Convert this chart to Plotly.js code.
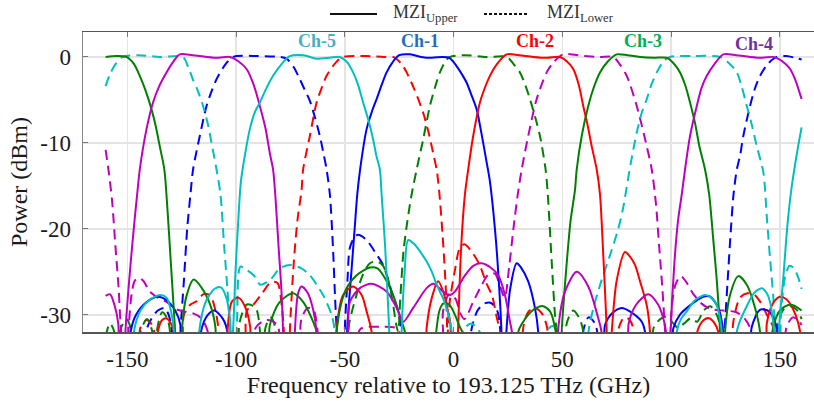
<!DOCTYPE html>
<html><head><meta charset="utf-8">
<script src="https://cdn.plot.ly/plotly-3.0.1.min.js"></script>
<style>html,body{margin:0;padding:0;background:#fff}</style>
</head><body><div id="chart" style="width:814px;height:402px"></div>
<script>
// ---- data (x: GHz, y: dBm) ----
const ch1Upper = [[-160,-40],[-150,-40],[-148.5,-32],[-146,-30],[-141,-28.5],[-136,-27.9],[-132,-28.3],[-128,-29.5],[-125.6,-31.2],[-124,-40],[-117,-40],[-116,-31.8],[-113,-30],[-110,-29.5],[-106,-30.5],[-104,-32],[-103,-40],[-51,-40],[-49.5,-40],[-49,-32],[-47,-25],[-45.5,-20],[-44.3,-16],[-43,-13.1],[-40,-8.4],[-37.5,-6.3],[-35.4,-4.9],[-33,-3.2],[-30.8,-1.8],[-28,-0.6],[-25,0.2],[-20,0.3],[-15,0],[-10,-0.1],[-5,0],[-2,-0.1],[0,-0.6],[2,-1.3],[4,-2.1],[6,-3],[8,-4.3],[10.6,-6.1],[12,-7.8],[13.6,-10],[15,-12],[16.7,-14.5],[19,-20],[20.5,-25],[22,-32],[22.5,-40],[24,-33],[26,-27],[29,-24],[31,-24.5],[34.3,-26.1],[37.4,-29.2],[38.9,-32],[39.5,-40],[68,-40],[69.6,-31.2],[73,-29.8],[77.3,-29.2],[81,-29.6],[86.5,-30.8],[88,-32],[89,-40],[100,-40],[101,-31.6],[104,-30],[108.7,-28.9],[114.8,-27.9],[118,-27.9],[121.7,-29.2],[124,-32],[125,-40],[136,-40],[137,-31.5],[141,-29.4],[145,-29.6],[148.6,-31.5],[149.5,-40],[160,-40]];
const ch1Lower = [[-160,-40],[-143,-40],[-141.5,-32],[-139,-30.5],[-136,-29.5],[-133,-29.2],[-131,-30],[-129.5,-32],[-128.5,-40],[-126.5,-40],[-125.6,-32],[-124,-26],[-122.5,-20],[-121,-16],[-119.8,-13.1],[-116.7,-9.2],[-113.6,-5.7],[-111,-3.8],[-109,-2.6],[-105,-0.9],[-101.4,0],[-90,0.1],[-80,0],[-76.8,-0.2],[-73.5,-1.2],[-70.7,-2.6],[-68.5,-3.8],[-66.1,-5.1],[-63.8,-7],[-61.5,-9.2],[-60,-11],[-58.4,-13.1],[-56.9,-16],[-55.5,-22],[-54.5,-28],[-53.8,-31.5],[-53.3,-33],[-52.5,-40],[-51,-40],[-50,-31.5],[-48.8,-26],[-47.7,-22.2],[-45.4,-20.9],[-43.9,-20.7],[-40,-21.3],[-35.4,-23],[-32.4,-24.2],[-28.5,-27.3],[-25.5,-29.6],[-24,-32],[-23.2,-40],[7,-40],[8,-32],[11,-29.5],[14,-28.7],[17,-28.6],[20,-29.5],[21.5,-32],[22,-40],[58,-40],[59.5,-32],[62,-30.3],[65,-31],[66,-32],[66.5,-40],[122,-40],[124.5,-32],[126,-26],[127.5,-20],[128.7,-16],[130.2,-13.1],[131.7,-11.5],[133.2,-9.2],[136.3,-5.7],[138.5,-3.7],[140.9,-2.2],[144.5,-0.8],[148.6,0],[153,0.1],[157,-0.1],[160,-0.3]];
const ch2Upper = [[-160,-40],[-137,-40],[-136,-32],[-134,-30.6],[-132,-30.4],[-130,-31],[-128.5,-32],[-128,-40],[-105,-40],[-104,-32],[-102,-28.5],[-99,-28],[-96,-29],[-93.5,-31.5],[-93,-40],[-55,-40],[-53.8,-31.5],[-50.8,-27.7],[-46.2,-26.7],[-42.3,-27.7],[-40,-29.6],[-37.7,-32],[-37,-40],[-14,-40],[-12.4,-31.5],[-10,-28],[-7.1,-26.1],[-4.5,-27.5],[-3.2,-28.9],[-1.5,-31],[-0.5,-40],[0.8,-40],[2,-32],[3.5,-22],[5.2,-16],[6.7,-13.1],[9,-9.2],[12.1,-5.3],[14.5,-3.5],[16.7,-2.2],[20,-0.8],[24.4,0.3],[30,0.2],[36.6,0],[43,-0.1],[48.9,0],[52,-0.5],[55,-1.4],[57.5,-3.2],[59.6,-5.7],[61.5,-7.8],[63.5,-10.4],[65.8,-13.1],[67.3,-16],[68.8,-23],[70.4,-32],[71,-40],[72.7,-32],[75,-26],[78.8,-22.7],[81,-23.2],[83.4,-24.2],[85.7,-26.1],[88.8,-28.9],[90.3,-32],[91,-40],[111,-40],[112,-32],[115,-30.6],[117.5,-30.4],[120,-31],[121.7,-32],[122.5,-40],[143,-40],[144,-31],[147,-28.6],[150,-27.9],[153,-28.2],[156,-29.3],[158.5,-31],[160,-33]];
const ch2Lower = [[-160,-40],[-146,-40],[-144,-31.5],[-141,-30.6],[-138,-31.5],[-136.5,-40],[-126,-40],[-124,-30],[-121,-28.8],[-118,-28.4],[-115,-27.6],[-112,-27.7],[-109.5,-29.5],[-108,-32],[-107,-40],[-97,-40],[-95,-29.5],[-92,-28.8],[-88,-27.5],[-84,-26.2],[-81,-26.3],[-79,-29],[-77.8,-33],[-77,-40],[-76,-40],[-75.3,-32],[-73.5,-24],[-71.8,-19],[-69.9,-15.5],[-69.2,-13.1],[-66.1,-9.2],[-63,-5.3],[-60.5,-3.5],[-58.4,-2.2],[-54,-0.6],[-50.8,0],[-40,0.1],[-32,0],[-27.8,0],[-24,-0.8],[-21.6,-1.8],[-18,-3.8],[-14,-6.5],[-11.5,-8.8],[-9.4,-11.2],[-7.8,-13.1],[-6.5,-16],[-5,-21],[-4,-25],[-3.3,-28.5],[-2.8,-32.5],[-2.3,-30],[-1.7,-28.3],[0.6,-24.8],[2.9,-22.2],[5,-21.8],[8.4,-22.7],[12,-24.2],[15,-26.3],[17.6,-27.7],[20,-30.5],[21.5,-32],[22,-40],[31,-40],[32,-31.5],[34.5,-29.6],[37.4,-29.2],[40.5,-29.8],[43,-31.5],[44,-40],[75,-40],[76,-31.5],[78.5,-30.3],[81,-30.6],[83,-32],[84,-40],[127,-40],[128.5,-31],[131.7,-28],[135,-27.5],[138,-27.6],[141,-28.5],[144,-30],[147,-31.5],[148,-40],[160,-40]];
const ch3Upper = [[-160,0],[-155,0.1],[-150.5,0],[-147,-0.8],[-144.3,-2.2],[-141.5,-4],[-138.9,-6.1],[-137,-8],[-135.1,-10.4],[-133,-13.1],[-131.5,-18],[-130,-24],[-128.5,-30],[-127.8,-33],[-127,-40],[-126,-40],[-125,-32],[-123,-28],[-119.5,-25.9],[-116,-26.8],[-111.8,-28.9],[-109.5,-31.5],[-108.5,-40],[-86,-40],[-84.5,-31.2],[-79.9,-28.5],[-73.8,-27.5],[-69.2,-28.5],[-64.6,-30.8],[-63,-32],[-62,-40],[-55,-40],[-53.8,-32],[-51.5,-28.5],[-49.2,-26.9],[-44.6,-25.4],[-38.5,-24.5],[-35,-24.6],[-32.4,-25.4],[-27.8,-27.7],[-23.9,-30.8],[-22.4,-32],[-21.5,-40],[-10,-40],[-8,-32],[-6.5,-29.5],[-4.8,-28.7],[-2,-28.8],[0.6,-30],[3,-31.5],[5,-32.5],[6,-40],[28.5,-40],[29.7,-32],[31.5,-31],[34.3,-30],[38,-29.2],[41.2,-29],[44,-29.5],[45.1,-30],[46.6,-31.5],[47.5,-33],[48.5,-40],[49.2,-40],[49.7,-32],[52,-24],[53.8,-19],[55.8,-15.5],[56.6,-13.1],[58.9,-9.2],[61.9,-5.7],[64.5,-3.5],[67.3,-1.8],[71,-0.5],[75,0.3],[80,0.2],[85.7,0],[92,-0.1],[98,-0.1],[101,-0.7],[104.1,-1.8],[106.5,-3.3],[108.7,-5.3],[111,-7.7],[113,-10.4],[115.6,-13.1],[117.5,-16],[119.3,-21],[121,-26],[122.5,-32],[123,-40],[124,-40],[124.8,-32],[127.1,-27.7],[130.9,-25.5],[134.8,-26.5],[138.6,-29.2],[140.9,-32],[141.5,-40],[145,-40],[146.5,-32],[150,-29.5],[155,-28.8],[160,-29.5]];
const ch3Lower = [[-160,-32.5],[-158,-31],[-156,-32],[-155,-40],[-153.5,-32],[-150.5,-30.5],[-148,-32],[-147,-40],[-144,-32],[-141,-30.5],[-138.5,-32],[-137.5,-40],[-136.5,-32],[-134,-29.7],[-131.5,-30.5],[-130,-33],[-129,-40],[-100,-40],[-98.5,-31],[-95,-28.8],[-91,-29.2],[-89,-32],[-88,-40],[-87.5,-40],[-86.5,-31.5],[-84,-30.3],[-82,-31.5],[-81,-40],[-52,-40],[-48,-31],[-45,-28],[-42,-25.5],[-38.5,-24],[-35,-23.8],[-32.4,-24.3],[-30,-26],[-28,-28.5],[-26.5,-31],[-25.5,-32],[-24.5,-28],[-23,-22.5],[-21.2,-19],[-19.3,-16],[-17,-13.1],[-14,-9.6],[-10.9,-5.7],[-8.5,-3.5],[-6.3,-1.8],[-3.5,-0.4],[-1.7,0],[5,0.2],[15,0],[24.4,0],[27.5,-0.8],[30.5,-1.8],[33,-3.3],[35.1,-4.9],[37.5,-7],[39.7,-9.2],[42.3,-13.1],[43.3,-16],[45.1,-23.8],[46.6,-30],[47.4,-32],[48,-40],[51,-40],[52,-31],[55,-29.5],[58,-30.5],[60,-32.5],[61,-40],[89,-40],[92,-31.5],[95,-30.5],[98,-30.2],[101,-31],[103,-31.5],[106,-31],[109,-30.4],[112,-30.8],[115,-29.5],[118,-29],[121,-30],[123,-32],[124,-40],[146,-40],[149,-31],[152,-29.3],[155,-29],[158,-29.5],[160,-30.5]];
const ch4Upper = [[-160,-27.8],[-158,-27.6],[-156,-28.8],[-154.2,-31],[-153,-40],[-151.7,-40],[-150.9,-32],[-148.5,-24],[-146.5,-18.5],[-145.5,-16],[-144.3,-13.1],[-141.2,-8.4],[-138.2,-5.3],[-135,-3.2],[-132,-1.8],[-129,-0.6],[-125.9,0.3],[-120,0.2],[-113.6,0],[-108,-0.1],[-102.9,0],[-99,-0.5],[-95.2,-1.4],[-92,-3.2],[-89.1,-5.7],[-86.5,-8.3],[-84.5,-11.2],[-83,-13.1],[-82,-16],[-80.5,-22],[-79.2,-27],[-78.4,-32],[-77.8,-40],[-74,-40],[-73,-32],[-71.5,-27.5],[-69.9,-26.7],[-67,-27.5],[-64.5,-29.5],[-63,-32],[-62,-40],[-50,-40],[-48.5,-32],[-47.7,-28.5],[-43.1,-26.9],[-37.7,-26.4],[-30.8,-27.3],[-26.2,-29.2],[-23.2,-30.8],[-18.6,-29.2],[-12.4,-26.9],[-9.4,-26.4],[-4.8,-27.3],[-1.7,-27.7],[0.6,-27.3],[5,-25.5],[9,-24.3],[12.9,-24],[17,-24.5],[20.5,-25.4],[23.6,-27.7],[25.9,-30.8],[26.8,-32],[27.5,-40],[47,-40],[48.1,-31.6],[51.2,-27.3],[56.6,-25],[61.9,-26.7],[66.5,-30.4],[68,-32],[68.8,-40],[79.5,-40],[80.5,-31],[84,-28.8],[89.5,-27.6],[94,-28.8],[97,-31],[98,-33],[98.5,-40],[99.2,-40],[99.8,-32],[101.5,-24],[103.2,-19],[104.9,-16],[106.4,-13.1],[108.7,-9.2],[111.8,-5.7],[114,-3.6],[116.4,-2.2],[120,-0.8],[124,0.3],[130,0.2],[136.3,0],[142,-0.1],[147,0],[150,-0.3],[152.5,-0.8],[154.7,-1.4],[157,-2.6],[160,-4.9]];
const ch4Lower = [[-160,-10.8],[-158.5,-13.5],[-157,-16.8],[-155.5,-22],[-154,-27],[-153.2,-30.8],[-152.5,-33],[-152,-40],[-150.5,-40],[-149.5,-32],[-148,-27.5],[-146.5,-26],[-144.5,-25.7],[-142.5,-26.1],[-139.7,-27.3],[-136,-28],[-132,-28.5],[-128,-29.3],[-124,-29.6],[-120,-29.8],[-116,-30.4],[-113,-32],[-111,-40],[-93,-40],[-91,-31.5],[-86,-30.6],[-81,-31.2],[-79,-40],[-72,-40],[-70,-30.5],[-67,-29.2],[-64.5,-29.4],[-62.5,-32],[-61,-40],[-45,-40],[-43,-31.7],[-34,-31.4],[-26,-31.6],[-24,-33],[-23,-40],[-6,-40],[-4.8,-29.5],[-2,-27.6],[1,-28.2],[3,-29.8],[5,-30.5],[9,-28.5],[13,-26.5],[16,-25.3],[19,-25.2],[21.5,-26.8],[23.5,-28],[25.5,-24.5],[27.5,-20],[29.5,-16],[31.3,-13.1],[34.3,-9.2],[38.2,-4.9],[42.8,-1.8],[46,-0.6],[50.4,0.3],[60,0.1],[67,0],[73.4,0],[76.5,-0.9],[79.6,-2.2],[84.2,-5.7],[88.8,-10.4],[91.1,-13.1],[93,-17],[94.5,-22],[96,-27],[97,-31],[97.5,-33],[98,-40],[99,-40],[100,-30],[102,-26.5],[104.5,-25.5],[107,-26.2],[110,-27.5],[114,-28.7],[118,-29.3],[124,-29.5],[130,-29.7],[134,-30.5],[137,-32],[138,-40],[150,-40],[153,-31.5],[156,-30.3],[159,-30.8],[160,-31.2]];
const ch5Upper = [[-160,-40],[-148,-40],[-147,-32],[-144,-29.5],[-140,-28.3],[-135,-27.7],[-132,-28],[-130,-29.5],[-128.5,-32],[-128,-40],[-118,-40],[-117,-32],[-114,-28.5],[-110,-27],[-107,-26.8],[-104.5,-28],[-102.8,-30.5],[-102.2,-33],[-101.5,-32],[-100.3,-25],[-99,-19],[-97.8,-14.5],[-96,-11.5],[-93.7,-8.4],[-91.5,-6.5],[-89.1,-5.3],[-86,-3.6],[-83,-2.2],[-79,-0.8],[-75.3,0.1],[-69,0.2],[-63,-0.2],[-57,-0.1],[-52.3,0],[-49,-0.6],[-46.2,-1.8],[-44,-3.2],[-41.6,-5.3],[-39,-7.5],[-37,-9.6],[-35.5,-11.5],[-33.9,-13.1],[-33.1,-16],[-31.5,-22],[-30.3,-28],[-29.6,-32],[-29,-40],[-24.5,-40],[-23.9,-32],[-22.5,-25],[-20.9,-21.3],[-18,-21.8],[-15,-22.8],[-12.4,-23.8],[-10,-25],[-7.8,-26.5],[-5,-28],[-3.2,-29.2],[-1.5,-31],[-0.9,-32],[-0.3,-40],[101.5,-40],[102.6,-32],[104.5,-30.5],[107.2,-29.6],[111,-28.3],[115.6,-27.7],[118.5,-28],[121,-28.9],[122.5,-30.5],[123.3,-32],[124,-40],[129.5,-40],[130.2,-32],[132,-30.5],[134.8,-29],[138,-27.5],[141.7,-26.9],[144,-27.5],[145.5,-28.5],[147,-31],[147.8,-33],[148.5,-40],[149,-40],[149.5,-32],[151.5,-26],[153.5,-19.5],[155.5,-15],[158,-11],[160,-8.2]];
const ch5Lower = [[-160,-3.4],[-158,-2],[-155,-0.7],[-152,0],[-145,0.2],[-135,0],[-124.5,0],[-122,-1.2],[-119.9,-2.6],[-117.5,-4],[-115.2,-5.7],[-113,-7.8],[-111.3,-10],[-109,-13.1],[-107.2,-16],[-105.5,-22],[-104,-27],[-103,-31],[-102.5,-33],[-102,-40],[-100.5,-40],[-99.5,-30],[-98,-24.4],[-95,-24.8],[-91.9,-25.4],[-88.8,-26.5],[-84.2,-25.9],[-80,-24.6],[-75.2,-24.2],[-70,-24.6],[-66.1,-25.4],[-63,-26.5],[-60,-27.7],[-56.1,-30],[-54.6,-32],[-54,-40],[3,-40],[4,-32],[8,-31],[12,-32],[13,-40],[41,-40],[42.5,-32],[45.5,-31.3],[48.5,-32],[49.5,-40],[61,-40],[62,-32],[64.5,-29],[68,-26],[72,-23],[75.7,-20],[78,-17.5],[80,-14.5],[81.5,-12.3],[84.2,-8.8],[86.5,-6.5],[88.8,-4.9],[91,-3.2],[93.4,-1.8],[96.5,-0.5],[99.5,0],[110,0.1],[122.5,0],[126.5,-0.7],[130.2,-1.8],[132.5,-3.5],[134.8,-5.7],[137,-7.8],[139.4,-10.4],[142.4,-13.4],[144,-18.6],[145.5,-23.5],[147,-28],[147.8,-32],[148.5,-40],[149.5,-40],[150.5,-30],[152.5,-25.5],[154.5,-24.3],[156.5,-24.6],[158.5,-25.7],[160,-27]];

const channelNames = ['Ch-1','Ch-2','Ch-3','Ch-4','Ch-5'];
const channelLabelX = [-15.5, 37.3, 87.2, 138.2, -63];
const channelLabelY = [1.85, 1.85, 1.85, 1.5, 1.85];
const legendNames = ['MZI<sub>Upper</sub>', 'MZI<sub>Lower</sub>'];
const xTicks = [-150,-100,-50,0,50,100,150];
const yTicks = [0,-10,-20,-30];

// ---- styles ----
const lineColors = ['#0000ff','#ff0000','#008000','#bf00bf','#00bfbf'];
const labelColors = ['#1f6fc0','#ff0000','#00b050','#7030a0','#4bacc6'];
const upper = [ch1Upper, ch2Upper, ch3Upper, ch4Upper, ch5Upper];
const lower = [ch1Lower, ch2Lower, ch3Lower, ch4Lower, ch5Lower];
const serif = 'Liberation Serif';

const traces = [];
for (let i = 0; i < 5; i++) {
  traces.push({x: lower[i].map(p=>p[0]), y: lower[i].map(p=>p[1]), type:'scatter', mode:'lines',
    line:{color: lineColors[i], width: 2, dash:'10px,6px', shape:'spline', smoothing:0.8}, showlegend:false, hoverinfo:'skip'});
}
for (let i = 0; i < 5; i++) {
  traces.push({x: upper[i].map(p=>p[0]), y: upper[i].map(p=>p[1]), type:'scatter', mode:'lines',
    line:{color: lineColors[i], width: 2, shape:'spline', smoothing:0.8}, showlegend:false, hoverinfo:'skip'});
}

const annotations = channelNames.map((t,i)=>({x: channelLabelX[i], y: channelLabelY[i], xref:'x', yref:'y', text:'<b>'+t+'</b>',
  showarrow:false, font:{family: serif, size:18, color: labelColors[i]}, xanchor:'center', yanchor:'middle'}));
// manual legend
const legY = 1.06;
annotations.push({x:0.4213, y:legY, xref:'paper', yref:'paper', text:legendNames[0], showarrow:false, xanchor:'left', yanchor:'middle', font:{family:serif, size:18, color:'#333'}});
annotations.push({x:0.632, y:legY, xref:'paper', yref:'paper', text:legendNames[1], showarrow:false, xanchor:'left', yanchor:'middle', font:{family:serif, size:18, color:'#333'}});
const shapes = [
  {type:'line', xref:'paper', yref:'paper', x0:0.3379, x1:0.4022, y0:legY, y1:legY, line:{color:'#111', width:2}},
  {type:'line', xref:'paper', yref:'paper', x0:0.5486, x1:0.6088, y0:legY, y1:legY, line:{color:'#111', width:2, dash:'3px,2px'}}
];

const layout = {
  width:814, height:402, margin:{l:83, r:0, t:32, b:70},
  font:{family:serif},
  paper_bgcolor:'#fff', plot_bgcolor:'#fff', showlegend:false,
  xaxis:{range:[-170.4,165.7], tickvals:xTicks, ticktext:xTicks.map(String), ticks:'inside', ticklen:5, tickcolor:'#777',
    showline:true, linecolor:'#555', linewidth:1.5, mirror:'ticks', showgrid:true, gridcolor:'#e4e4e4', gridwidth:1.5, zeroline:false,
    tickfont:{family:serif, size:23, color:'#1a1a1a'}, ticklabelstandoff:6,
    title:{text:'Frequency relative to 193.125 THz (GHz)', font:{family:serif, size:24, color:'#1a1a1a'}, standoff:4}},
  yaxis:{range:[-32,2.9], tickvals:yTicks, ticktext:yTicks.map(String), ticks:'inside', ticklen:5, tickcolor:'#777',
    showline:true, linecolor:'#888', linewidth:1.5, mirror:false, showgrid:true, gridcolor:'#e4e4e4', gridwidth:1.5, zeroline:false,
    tickfont:{family:serif, size:23, color:'#1a1a1a'}, ticklabelstandoff:6,
    title:{text:'Power (dBm)', font:{family:serif, size:24, color:'#1a1a1a'}, standoff:6}},
  annotations: annotations, shapes: shapes
};
Plotly.newPlot('chart', traces, layout, {displayModeBar:false, staticPlot:true});
</script></body></html>
